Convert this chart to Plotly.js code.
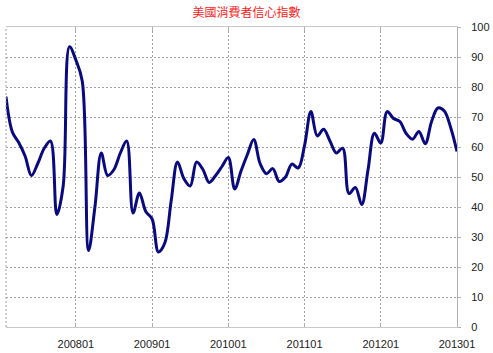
<!DOCTYPE html>
<html>
<head>
<meta charset="utf-8">
<script src="https://cdn.plot.ly/plotly-3.0.1.min.js"></script>
<style>html,body{margin:0;padding:0;background:#fff;}</style>
</head>
<body>
<div id="chart" style="width:493px;height:353px;"></div>
<script>
// Months Feb 2007 – Jan 2013
const months = [];
for (let y = 2007; y <= 2013; y++) {
  for (let m = 1; m <= 12; m++) {
    if ((y === 2007 && m < 2) || (y === 2013 && m > 1)) continue;
    months.push(String(y) + (m < 10 ? '0' + m : String(m)));
  }
}
const values = [
  76.8, 65, 61.5, 57, 50.5, 54.5, 59.5, 62, 37.5, 47, 93.4,
  89, 82, 25.5, 40, 58, 50.5, 52.5, 58, 62, 38, 44.7, 38.5, 36,
  25, 28, 42, 55, 49.5, 47, 55, 52.5, 48.2, 50.5, 53.5, 56.5,
  46, 52, 57.5, 62.5, 54.5, 51.1, 52.8, 48.5, 50, 54.3, 53, 60.5,
  71.8, 63.7, 65.9, 62, 58, 59.6, 44.5, 46.5, 40.8, 52.5, 64.6, 61.3,
  71.8, 69.5, 68.5, 64.5, 62.6, 65.2, 61.1, 68.5, 73, 72, 66.5, 58.5
];
const tickLabels = ['200801', '200901', '201001', '201101', '201201', '201301'];
const yTicks = [0, 10, 20, 30, 40, 50, 60, 70, 80, 90, 100];

const trace = {
  x: months,
  y: values,
  type: 'scatter',
  mode: 'lines',
  line: {color: '#0a0a80', width: 3, shape: 'spline', smoothing: 1},
  hoverinfo: 'x+y'
};

const layout = {
  width: 493,
  height: 353,
  margin: {l: 6, r: 36, t: 27, b: 26},
  paper_bgcolor: '#ffffff',
  plot_bgcolor: '#ffffff',
  showlegend: false,
  title: {
    text: '美國消費者信心指數',
    font: {family: '"Noto Sans CJK TC", "Noto Sans CJK SC", sans-serif', size: 12, color: '#ff1a1a'},
    x: 0.5, xanchor: 'center', y: 0.975, yanchor: 'top'
  },
  xaxis: {
    type: 'category',
    range: [0, months.length - 1],
    tickvals: tickLabels,
    ticktext: tickLabels,
    showgrid: true,
    gridcolor: '#a0a0a0',
    griddash: '2px,2px',
    gridwidth: 1,
    showline: true,
    linecolor: '#c8c8c8',
    linewidth: 1,
    mirror: 'ticks',
    ticks: 'inside',
    ticklen: 4,
    tickcolor: '#b0b0b0',
    ticklabelstandoff: 7,
    tickfont: {family: 'Liberation Sans, Arial, sans-serif', size: 11, color: '#222'},
    zeroline: false,
    fixedrange: true
  },
  yaxis: {
    side: 'right',
    range: [0, 100],
    tickvals: yTicks,
    showgrid: true,
    gridcolor: '#a0a0a0',
    griddash: '2px,2px',
    gridwidth: 1,
    showline: true,
    linecolor: '#b0b0b0',
    linewidth: 1,
    ticks: 'outside',
    ticklen: 3,
    tickcolor: '#b0b0b0',
    ticklabelstandoff: 8,
    tickfont: {family: 'Liberation Sans, Arial, sans-serif', size: 11, color: '#222'},
    zeroline: false,
    fixedrange: true
  },
  shapes: [{
    type: 'line', xref: 'paper', yref: 'paper', x0: 0, x1: 0, y0: 0, y1: 1,
    line: {color: '#a0a0a0', width: 1, dash: '2px,2px'}
  }]
};

Plotly.newPlot('chart', [trace], layout, {displayModeBar: false, staticPlot: true});
</script>
</body>
</html>
